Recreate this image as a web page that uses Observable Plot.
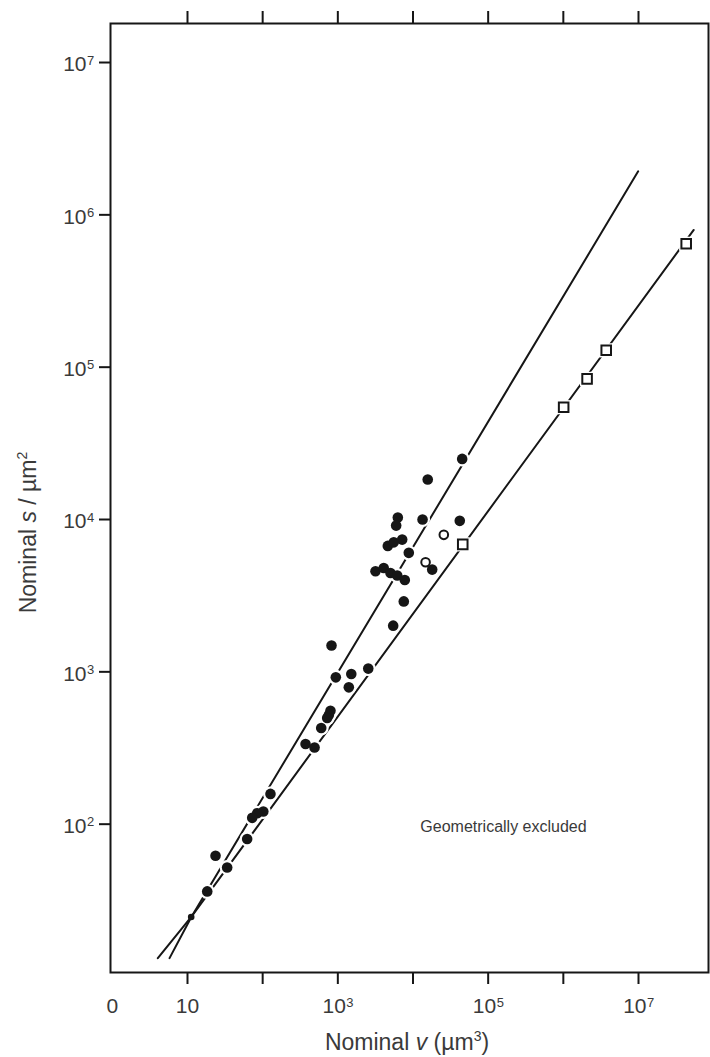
<!DOCTYPE html>
<html><head><meta charset="utf-8">
<script src="https://cdn.jsdelivr.net/npm/d3@7"></script>
<script src="https://cdn.jsdelivr.net/npm/@observablehq/plot@0.6"></script>
<style>
body{margin:0;background:#fff}
#chart{width:710px;height:1057px}
</style>
</head><body><div id="chart"></div>
<script>
// ---- data (nominal volume v in µm³, nominal surface s in µm²) ----
const filledV = [4.51e4, 1.57e4, 6.28e3, 5.97e3, 1.34e4, 4.19e4, 4.62e3, 5.55e3, 7.18e3, 8.79e3, 1.80e4,
  3.17e3, 4.08e3, 5.02e3, 6.17e3, 7.78e3, 7.54e3, 5.45e3, 824, 940, 1510, 1400, 2540, 798, 759, 721, 601,
  372, 490, 127, 102, 84.5, 72.6, 62.2, 23.6, 33.7, 18.3];
const filledS = [2.50e4, 1.83e4, 1.03e4, 9.12e3, 1.0e4, 9.8e3, 6.71e3, 7.08e3, 7.38e3, 6.04e3, 4.69e3,
  4.57e3, 4.81e3, 4.46e3, 4.29e3, 4.01e3, 2.90e3, 2.01e3, 1490, 920, 968, 791, 1050, 556, 521, 498, 428,
  336, 319, 158, 121, 118, 110, 80, 62, 52, 36.2];
const smallV = [11.2];
const smallS = [24.6];
const openV = [2.57e4, 1.47e4];
const openS = [7.93e3, 5.24e3];
const squareV = [4.59e4, 1.01e6, 2.07e6, 3.72e6, 4.31e7];
const squareS = [6.87e3, 5.46e4, 8.38e4, 1.29e5, 6.46e5];
const upperLineV = [5.77, 11.3, 9.9e6];
const upperLineS = [13.2, 24.7, 1.93e6];
const lowerLineV = [4.03, 11.3, 5.43e7];
const lowerLineS = [13.2, 24.7, 7.96e5];

const xTickVals = [10, 100, 1e3, 1e4, 1e5, 1e6, 1e7];
const yTickVals = [1e2, 1e3, 1e4, 1e5, 1e6, 1e7];
const xPlainVals = [1, 10];
const xPlainText = ["0", "10"];
const xPowVals = [1e3, 1e5, 1e7];
const xPowExp = ["3", "5", "7"];
const yPowVals = [1e2, 1e3, 1e4, 1e5, 1e6, 1e7];
const yPowExp = ["2", "3", "4", "5", "6", "7"];
const noteV = [1.6e5];
const noteS = [96];
const noteText = ["Geometrically excluded"];

// ---- tables ----
const zip = (a, b) => a.map((v, i) => ({v, s: b[i]}));
const filled = zip(filledV, filledS);
const small = zip(smallV, smallS);
const open = zip(openV, openS);
const squares = zip(squareV, squareS);
const upper = zip(upperLineV, upperLineS);
const lower = zip(lowerLineV, lowerLineS);
const xPlain = xPlainVals.map((v, i) => ({v, t: xPlainText[i]}));
const xPow = xPowVals.map((v, i) => ({v, e: xPowExp[i]}));
const yPow = yPowVals.map((v, i) => ({v, e: yPowExp[i]}));
const notes = noteV.map((v, i) => ({v, s: noteS[i], t: noteText[i]}));

const ink = "#161616", txt = "#3a3a3a";
const font = "'Liberation Sans', Arial, Helvetica, sans-serif";
const W = 710, H = 1057, mL = 110, mR = 2, mT = 23, mB = 85;

const plot = Plot.plot({
  width: W, height: H,
  marginLeft: mL, marginRight: mR, marginTop: mT, marginBottom: mB,
  style: {fontFamily: font, background: "#fff", color: txt, overflow: "visible"},
  x: {type: "log", domain: [Math.pow(10, -0.0243), Math.pow(10, 7.9312)]},
  y: {type: "log", domain: [Math.pow(10, 1.0263), Math.pow(10, 7.2561)]},
  marks: [
    Plot.axisX({ticks: xTickVals, anchor: "top", label: null, tickSize: 13, tickFormat: () => "", stroke: ink, strokeWidth: 2}),
    Plot.axisX({ticks: xTickVals, anchor: "bottom", label: null, tickSize: 12, tickFormat: () => "", stroke: ink, strokeWidth: 2}),
    Plot.axisY({ticks: yTickVals, anchor: "left", label: null, tickSize: 11, tickFormat: () => "", stroke: ink, strokeWidth: 2}),
    // tick labels
    Plot.text(xPlain, {x: "v", text: "t", frameAnchor: "bottom", lineAnchor: "top", dy: 26, fontSize: 21, fill: txt}),
    Plot.text(xPow, {x: "v", text: () => "10", frameAnchor: "bottom", lineAnchor: "top", textAnchor: "end", dx: 8, dy: 26, fontSize: 21, fill: txt}),
    Plot.text(xPow, {x: "v", text: "e", frameAnchor: "bottom", lineAnchor: "top", textAnchor: "start", dx: 8.5, dy: 25, fontSize: 13, fill: txt}),
    Plot.text(yPow, {y: "v", text: () => "10", frameAnchor: "left", lineAnchor: "top", textAnchor: "end", dx: -24, dy: -6, fontSize: 21, fill: txt}),
    Plot.text(yPow, {y: "v", text: "e", frameAnchor: "left", lineAnchor: "top", textAnchor: "start", dx: -23.5, dy: -7, fontSize: 13, fill: txt}),
    // lines
    Plot.line(upper, {x: "v", y: "s", stroke: ink, strokeWidth: 2}),
    Plot.line(lower, {x: "v", y: "s", stroke: ink, strokeWidth: 2}),
    // white halos that break the lines around markers
    Plot.dot(filled, {x: "v", y: "s", r: 7.5, fill: "#fff"}),
    Plot.dot(open, {x: "v", y: "s", r: 7, fill: "#fff"}),
    Plot.dot(squares, {x: "v", y: "s", symbol: "square", r: 8, fill: "#fff"}),
    // markers
    Plot.dot(filled, {x: "v", y: "s", r: 5.3, fill: ink}),
    Plot.dot(small, {x: "v", y: "s", r: 3.3, fill: ink}),
    Plot.dot(open, {x: "v", y: "s", r: 4.3, fill: "#fff", stroke: ink, strokeWidth: 2}),
    Plot.dot(squares, {x: "v", y: "s", symbol: "square", r: 5.4, fill: "#fff", stroke: ink, strokeWidth: 2}),
    Plot.text(notes, {x: "v", y: "s", text: "t", fontSize: 16, fill: txt}),
    Plot.frame({stroke: ink, strokeWidth: 2})
  ]
});
document.getElementById("chart").appendChild(plot);

// axis titles with italic variables and superscripts
const svg = d3.select(plot);
const xt = svg.append("text")
  .attr("x", mL + (W - mL - mR) / 2 - 2).attr("y", H - 7)
  .attr("text-anchor", "middle").attr("font-size", 23).attr("fill", txt).attr("font-family", font);
xt.append("tspan").text("Nominal ");
xt.append("tspan").attr("font-style", "italic").text("v");
xt.append("tspan").text(" (\u00b5m");
xt.append("tspan").attr("font-size", 14).attr("dy", -9).text("3");
xt.append("tspan").attr("dy", 9).text(")");

const yt = svg.append("text")
  .attr("transform", `translate(36,${mT + (H - mT - mB) / 2 + 35}) rotate(-90)`)
  .attr("text-anchor", "middle").attr("font-size", 23).attr("fill", txt).attr("font-family", font);
yt.append("tspan").text("Nominal ");
yt.append("tspan").attr("font-style", "italic").text("s");
yt.append("tspan").text(" / \u00b5m");
yt.append("tspan").attr("font-size", 14).attr("dy", -9).text("2");
</script>
</body></html>
